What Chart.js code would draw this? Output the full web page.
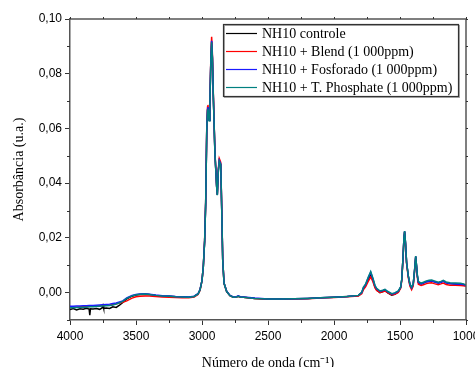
<!DOCTYPE html>
<html>
<head>
<meta charset="utf-8">
<script src="https://cdn.jsdelivr.net/npm/chart.js@4"></script>
<style>
  html, body { margin: 0; padding: 0; background: #fff; }
  canvas { display: block; }
</style>
</head>
<body>
<canvas id="ftir" width="475" height="367"></canvas>
<script>
// wavenumbers (cm-1), shared by all four spectra
const wavenumbers = [
  4000, 3975, 3950, 3925, 3900, 3875, 3855, 3850, 3845, 3825,
  3800, 3775, 3755, 3750, 3745, 3725, 3700, 3675, 3650, 3625,
  3600, 3570, 3530, 3500, 3470, 3430, 3400, 3350, 3300, 3250,
  3200, 3150, 3100, 3060, 3030, 3015, 3000, 2990, 2980, 2972,
  2964, 2958, 2955, 2950, 2945, 2940, 2933, 2927, 2921, 2914,
  2902, 2889, 2884, 2876, 2869, 2858, 2851, 2843, 2833, 2813,
  2788, 2763, 2740, 2725, 2710, 2687, 2600, 2500, 2400, 2300,
  2200, 2100, 2000, 1900, 1816, 1790, 1778, 1760, 1740, 1722,
  1705, 1690, 1677, 1652, 1630, 1614, 1595, 1563, 1540, 1513,
  1495, 1487, 1478, 1470, 1465, 1458, 1450, 1437, 1425, 1412,
  1400, 1390, 1381, 1375, 1368, 1361, 1340, 1323, 1300, 1280,
  1260, 1240, 1210, 1190, 1172, 1150, 1121, 1080, 1040, 1020,
  1000
];

const controle = [
  -0.0062, -0.0058, -0.0063, -0.0059, -0.0061, -0.0057, -0.0060, -0.0082, -0.0059, -0.0060,
  -0.0058, -0.0061, -0.0055, -0.0047, -0.0057, -0.0056, -0.0058, -0.0052, -0.0054, -0.0046,
  -0.0036, -0.0023, -0.0013, -0.0009, -0.0007, -0.0006, -0.0007, -0.0010, -0.0012, -0.0013,
  -0.0015, -0.0016, -0.0017, -0.0014, -0.0005, 0.0010, 0.0044, 0.0095, 0.0189, 0.0329,
  0.0592, 0.0667, 0.0675, 0.0647, 0.0629, 0.0698, 0.0848, 0.0918, 0.0857, 0.0714,
  0.0509, 0.0387, 0.0357, 0.0447, 0.0482, 0.0469, 0.0314, 0.0119, 0.0034, 0.0004,
  -0.0011, -0.0017, -0.0016, -0.0013, -0.0016, -0.0017, -0.0021, -0.0023, -0.0023, -0.0022,
  -0.0021, -0.0019, -0.0017, -0.0014, -0.0011, -0.0001, 0.0014, 0.0027, 0.0050, 0.0067,
  0.0046, 0.0021, 0.0010, 0.0000, 0.0004, 0.0008, 0.0000, -0.0009, -0.0006, 0.0002,
  0.0019, 0.0046, 0.0119, 0.0199, 0.0223, 0.0179, 0.0109, 0.0059, 0.0029, 0.0016,
  0.0029, 0.0079, 0.0132, 0.0099, 0.0059, 0.0037, 0.0032, 0.0035, 0.0040, 0.0042,
  0.0043, 0.0040, 0.0035, 0.0038, 0.0042, 0.0036, 0.0033, 0.0032, 0.0031, 0.0030,
  0.0027
];

const blend = [
  -0.0054, -0.0053, -0.0053, -0.0052, -0.0052, -0.0051, -0.0051, -0.0051, -0.0050, -0.0050,
  -0.0049, -0.0048, -0.0047, -0.0047, -0.0047, -0.0046, -0.0045, -0.0043, -0.0041, -0.0038,
  -0.0035, -0.0030, -0.0020, -0.0015, -0.0013, -0.0012, -0.0012, -0.0014, -0.0016, -0.0017,
  -0.0018, -0.0019, -0.0019, -0.0016, -0.0007, 0.0009, 0.0044, 0.0096, 0.0192, 0.0334,
  0.0600, 0.0678, 0.0686, 0.0655, 0.0633, 0.0705, 0.0857, 0.0935, 0.0870, 0.0722,
  0.0514, 0.0390, 0.0360, 0.0453, 0.0490, 0.0476, 0.0318, 0.0121, 0.0034, 0.0004,
  -0.0011, -0.0017, -0.0016, -0.0013, -0.0016, -0.0017, -0.0021, -0.0024, -0.0024, -0.0023,
  -0.0022, -0.0020, -0.0018, -0.0015, -0.0012, -0.0004, 0.0010, 0.0022, 0.0042, 0.0057,
  0.0040, 0.0018, 0.0008, 0.0001, 0.0003, 0.0006, 0.0000, -0.0008, -0.0006, 0.0001,
  0.0016, 0.0043, 0.0116, 0.0196, 0.0221, 0.0176, 0.0106, 0.0055, 0.0024, 0.0011,
  0.0024, 0.0075, 0.0129, 0.0095, 0.0054, 0.0031, 0.0026, 0.0029, 0.0033, 0.0035,
  0.0036, 0.0033, 0.0029, 0.0032, 0.0035, 0.0030, 0.0027, 0.0027, 0.0026, 0.0025,
  0.0023
];

const fosforado = [
  -0.0050, -0.0050, -0.0049, -0.0049, -0.0048, -0.0048, -0.0047, -0.0047, -0.0047, -0.0047,
  -0.0046, -0.0045, -0.0044, -0.0044, -0.0044, -0.0043, -0.0042, -0.0040, -0.0038, -0.0034,
  -0.0030, -0.0019, -0.0010, -0.0007, -0.0005, -0.0004, -0.0006, -0.0009, -0.0011, -0.0012,
  -0.0014, -0.0015, -0.0016, -0.0013, -0.0004, 0.0011, 0.0045, 0.0096, 0.0190, 0.0330,
  0.0595, 0.0670, 0.0678, 0.0650, 0.0630, 0.0700, 0.0850, 0.0920, 0.0860, 0.0716,
  0.0510, 0.0388, 0.0358, 0.0449, 0.0483, 0.0470, 0.0315, 0.0120, 0.0035, 0.0005,
  -0.0010, -0.0016, -0.0015, -0.0012, -0.0015, -0.0016, -0.0020, -0.0023, -0.0023, -0.0022,
  -0.0021, -0.0019, -0.0017, -0.0014, -0.0010, 0.0000, 0.0017, 0.0030, 0.0055, 0.0074,
  0.0050, 0.0025, 0.0014, 0.0005, 0.0008, 0.0011, 0.0004, -0.0005, -0.0002, 0.0005,
  0.0020, 0.0047, 0.0120, 0.0200, 0.0224, 0.0180, 0.0110, 0.0060, 0.0030, 0.0017,
  0.0030, 0.0080, 0.0133, 0.0100, 0.0060, 0.0038, 0.0032, 0.0035, 0.0040, 0.0042,
  0.0043, 0.0040, 0.0035, 0.0038, 0.0042, 0.0036, 0.0033, 0.0032, 0.0031, 0.0030,
  0.0027
];

const tPhosphate = [
  -0.0055, -0.0055, -0.0054, -0.0054, -0.0053, -0.0053, -0.0052, -0.0052, -0.0052, -0.0052,
  -0.0051, -0.0050, -0.0049, -0.0049, -0.0049, -0.0048, -0.0047, -0.0045, -0.0042, -0.0037,
  -0.0032, -0.0021, -0.0012, -0.0008, -0.0006, -0.0005, -0.0007, -0.0010, -0.0012, -0.0013,
  -0.0015, -0.0016, -0.0017, -0.0014, -0.0005, 0.0010, 0.0044, 0.0095, 0.0188, 0.0328,
  0.0590, 0.0665, 0.0672, 0.0645, 0.0628, 0.0695, 0.0845, 0.0915, 0.0855, 0.0712,
  0.0508, 0.0386, 0.0356, 0.0446, 0.0480, 0.0468, 0.0313, 0.0118, 0.0034, 0.0004,
  -0.0011, -0.0017, -0.0016, -0.0013, -0.0016, -0.0017, -0.0021, -0.0023, -0.0023, -0.0022,
  -0.0021, -0.0019, -0.0017, -0.0014, -0.0010, 0.0001, 0.0019, 0.0032, 0.0057, 0.0077,
  0.0053, 0.0027, 0.0016, 0.0006, 0.0009, 0.0012, 0.0005, -0.0004, -0.0001, 0.0006,
  0.0021, 0.0048, 0.0121, 0.0201, 0.0225, 0.0181, 0.0111, 0.0062, 0.0032, 0.0019,
  0.0032, 0.0081, 0.0134, 0.0101, 0.0062, 0.0041, 0.0035, 0.0038, 0.0043, 0.0045,
  0.0046, 0.0043, 0.0038, 0.0041, 0.0045, 0.0039, 0.0036, 0.0035, 0.0034, 0.0032,
  0.0029
];

const seriesNames = [
  "NH10 controle",
  "NH10 + Blend (1 000ppm)",
  "NH10 + Fosforado (1 000ppm)",
  "NH10 + T. Phosphate (1 000ppm)"
];
const seriesColors = ["#000000", "#ff0000", "#1a1aff", "#008080"];

const xTicks = [4000, 3500, 3000, 2500, 2000, 1500, 1000];
const xMinorTicks = [3750, 3250, 2750, 2250, 1750, 1250];
const yTicks = [0.00, 0.02, 0.04, 0.06, 0.08, 0.10];
const yMinorTicks = [-0.01, 0.01, 0.03, 0.05, 0.07, 0.09];

const serifFont = "'Liberation Serif', 'Times New Roman', serif";
const sansFont = "'Liberation Sans', Arial, sans-serif";

function toPoints(values) {
  return wavenumbers.map((x, i) => ({ x: x, y: values[i] }));
}

const allSeries = [controle, blend, fosforado, tPhosphate];

// frame, extra ticks on all four sides and the boxed legend
const framePlugin = {
  id: "frame",
  afterDraw(chart) {
    const ctx = chart.ctx;
    const area = chart.chartArea;
    const xs = chart.scales.x;
    const ys = chart.scales.y;
    ctx.save();

    ctx.strokeStyle = "#555";
    ctx.lineWidth = 1.5;
    ctx.beginPath();
    ctx.moveTo(area.left, area.top);
    ctx.lineTo(area.right, area.top);
    ctx.lineTo(area.right, area.bottom);
    ctx.stroke();

    ctx.strokeStyle = "#333";
    ctx.lineWidth = 1;
    ctx.beginPath();
    xMinorTicks.forEach(v => {
      const px = Math.round(xs.getPixelForValue(v)) + 0.5;
      ctx.moveTo(px, area.bottom);
      ctx.lineTo(px, area.bottom + 3);
    });
    xTicks.concat(xMinorTicks).forEach(v => {
      const px = Math.round(xs.getPixelForValue(v)) + 0.5;
      ctx.moveTo(px, area.top);
      ctx.lineTo(px, area.top - 2);
    });
    yMinorTicks.forEach(v => {
      const py = Math.round(ys.getPixelForValue(v)) + 0.5;
      ctx.moveTo(area.left, py);
      ctx.lineTo(area.left - 3, py);
    });
    yTicks.concat(yMinorTicks).forEach(v => {
      const py = Math.round(ys.getPixelForValue(v)) + 0.5;
      ctx.moveTo(area.right, py);
      ctx.lineTo(area.right + 2, py);
    });
    ctx.stroke();

    // legend box
    const bx = 223, by = 24, bw = 235, bh = 72;
    ctx.fillStyle = "#ffffff";
    ctx.fillRect(bx, by, bw, bh);
    ctx.strokeStyle = "#aaa";
    ctx.lineWidth = 1;
    ctx.strokeRect(bx + 1.5, by + 1.5, bw, bh);
    ctx.strokeStyle = "#333";
    ctx.lineWidth = 1.2;
    ctx.strokeRect(bx + 0.5, by + 0.5, bw, bh);

    ctx.font = "14px " + serifFont;
    ctx.textBaseline = "middle";
    ctx.textAlign = "left";
    seriesNames.forEach((name, i) => {
      const rowY = 33.5 + i * 18;
      ctx.strokeStyle = seriesColors[i];
      ctx.lineWidth = 1.2;
      ctx.beginPath();
      ctx.moveTo(226, rowY);
      ctx.lineTo(257, rowY);
      ctx.stroke();
      ctx.fillStyle = "#000";
      ctx.fillText(name, 262, rowY + 0.5);
    });
    ctx.restore();
  }
};

new Chart(document.getElementById("ftir"), {
  type: "line",
  data: {
    datasets: allSeries.map((vals, i) => ({
      label: seriesNames[i],
      data: toPoints(vals),
      borderColor: seriesColors[i],
      backgroundColor: seriesColors[i],
      borderWidth: 1.5,
      pointRadius: 0,
      tension: 0,
      fill: false,
      order: allSeries.length - 1 - i
    }))
  },
  options: {
    responsive: false,
    animation: false,
    devicePixelRatio: 1,
    layout: { padding: { top: 19, right: 9, left: 0, bottom: 0 } },
    plugins: {
      legend: { display: false },
      tooltip: { enabled: false }
    },
    scales: {
      x: {
        type: "linear",
        reverse: true,
        min: 1000,
        max: 4000,
        afterBuildTicks: scale => { scale.ticks = xTicks.map(v => ({ value: v })); },
        afterFit: scale => {
          scale.height = 47;
          scale.paddingLeft = 0;
          scale.paddingRight = 0;
        },
        border: { color: "#555", width: 1.5 },
        grid: { drawOnChartArea: false, color: "#333", tickLength: 5 },
        ticks: {
          color: "#000",
          font: { family: sansFont, size: 12 },
          padding: 4,
          maxRotation: 0,
          autoSkip: false,
          callback: v => String(v)
        },
        title: {
          display: true,
          text: "Número de onda (cm⁻¹)",
          color: "#000",
          font: { family: serifFont, size: 14, lineHeight: 1 },
          padding: { top: 0, bottom: -3 }
        }
      },
      y: {
        min: -0.01,
        max: 0.10,
        afterBuildTicks: scale => { scale.ticks = yTicks.map(v => ({ value: v })); },
        afterFit: scale => { scale.width = 70; },
        border: { color: "#555", width: 1.5 },
        grid: { drawOnChartArea: false, color: "#333", tickLength: 5 },
        ticks: {
          color: "#000",
          font: { family: sansFont, size: 12 },
          padding: 3,
          callback: v => v.toFixed(2).replace(".", ",")
        },
        title: {
          display: true,
          text: "Absorbância (u.a.)",
          color: "#000",
          font: { family: serifFont, size: 14, lineHeight: 1 },
          padding: { top: 12, bottom: 0 }
        }
      }
    }
  },
  plugins: [framePlugin]
});
</script>
</body>
</html>
